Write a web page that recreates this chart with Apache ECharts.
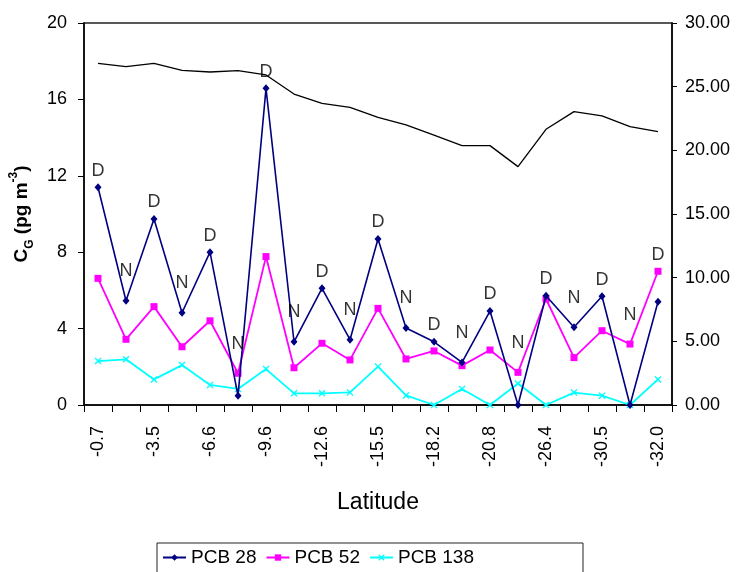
<!DOCTYPE html>
<html>
<head>
<meta charset="UTF-8">
<title>PCB vs latitude</title>
<script src="https://cdn.jsdelivr.net/npm/echarts@6/dist/echarts.min.js"></script>
<style>
	body { margin: 0; background: #fff; }
</style>
</head>
<body>
	<div id='chart' style='width: 737px; height: 572px;'></div>
	<script>
	// latitude categories (only every other one is labelled on the axis)
	var latitudes = ['-0.7', '', '-3.5', '', '-6.6', '', '-9.6', '', '-12.6', '', '-15.5', '', '-18.2', '', '-20.8', '', '-26.4', '', '-30.5', '', '-32.0'];
	// day / night tags
	var tags = ['D', 'N', 'D', 'N', 'D', 'N', 'D', 'N', 'D', 'N', 'D', 'N', 'D', 'N', 'D', 'N', 'D', 'N', 'D', 'N', 'D'];
	// gas phase concentrations, pg m-3
	var pcb28 = [11.4, 5.46, 9.74, 4.83, 8.0, 0.49, 16.58, 3.31, 6.11, 3.42, 8.69, 4.03, 3.31, 2.23, 4.92, 0, 5.72, 4.07, 5.69, 0, 5.41];
	var pcb52 = [6.63, 3.44, 5.15, 3.05, 4.41, 1.66, 7.77, 1.95, 3.23, 2.36, 5.06, 2.41, 2.83, 2.06, 2.88, 1.71, 5.55, 2.48, 3.89, 3.19, 7.0];
	var pcb138 = [2.30, 2.39, 1.34, 2.09, 1.05, 0.84, 1.88, 0.61, 0.61, 0.66, 2.01, 0.50, 0, 0.84, 0, 1.13, 0, 0.65, 0.49, 0, 1.34];
	// sea surface temperature, right axis
	var sst = [26.83, 26.57, 26.83, 26.28, 26.15, 26.26, 25.92, 24.42, 23.69, 23.38, 22.59, 22.0, 21.2, 20.37, 20.37, 18.72, 21.65, 23.04, 22.70, 21.86, 21.47];
	var leftTicks = [0, 4, 8, 12, 16, 20];
	var rightTicks = [0, 5, 10, 15, 20, 25, 30];

	var FONT = 'Liberation Sans, Arial, sans-serif';
	var xMark = 'path://M0,1.4L1.4,0L5,3.6L8.6,0L10,1.4L6.4,5L10,8.6L8.6,10L5,6.4L1.4,10L0,8.6L3.6,5Z';

	// D/N labels sit above the higher of PCB 28 / PCB 52
	var tagData = [];
	for (var i = 0; i < tags.length; i++) {
		tagData.push({
			value: Math.max(pcb28[i], pcb52[i]),
			label: { distance: tags[i] == 'D' ? 7 : 20 }
		});
	}
	var sstData = [];
	for (var i = 0; i < sst.length; i++) {
		if (i == 18) {
			sstData.push({ value: sst[i], label: { show: true, formatter: 'SST', position: 'top', distance: 9, offset: [8, 0], color: '#000', fontSize: 19, fontFamily: FONT } });
		} else {
			sstData.push(sst[i]);
		}
	}

	var chart = echarts.init(document.getElementById('chart'));
	var option = {
		animation: false,
		textStyle: { fontFamily: FONT },
		grid: {
			left: 84, right: 65, top: 23, bottom: 167,
			show: true, borderColor: '#222', borderWidth: 1.5
		},
		legend: {
			data: ['PCB 28', 'PCB 52', 'PCB 138'],
			left: 157, top: 543,
			orient: 'horizontal',
			borderColor: '#222', borderWidth: 1,
			padding: [5, 109, 10, 5],
			itemWidth: 23, itemHeight: 8, itemGap: 9,
			textStyle: { fontSize: 19, color: '#000', fontFamily: FONT }
		},
		xAxis: {
			type: 'category',
			data: latitudes,
			boundaryGap: true,
			name: 'Latitude',
			nameLocation: 'middle',
			nameGap: 86,
			nameTextStyle: { fontSize: 23, color: '#000', fontFamily: FONT },
			axisLine: { lineStyle: { color: '#000', width: 1.5 } },
			axisTick: { show: true, interval: 0, length: 7, lineStyle: { color: '#000' } },
			axisLabel: { interval: 1, rotate: 90, margin: 21, fontSize: 18, color: '#000', fontFamily: FONT },
			splitLine: { show: false }
		},
		yAxis: [
			{
				type: 'value',
				min: leftTicks[0], max: leftTicks[leftTicks.length - 1], interval: 4,
				name: '{b|C}{sub|G}{b| (pg m}{sup|-3}{b|)}',
				nameLocation: 'middle',
				nameRotate: 90,
				nameGap: 44,
				nameTextStyle: {
					color: '#000',
					rich: {
						b: { fontSize: 19, fontWeight: 'bold', fontFamily: FONT, color: '#000', lineHeight: 28 },
						sub: { fontSize: 12, fontWeight: 'bold', fontFamily: FONT, color: '#000', verticalAlign: 'bottom', lineHeight: 18 },
						sup: { fontSize: 12, fontWeight: 'bold', fontFamily: FONT, color: '#000', verticalAlign: 'top', lineHeight: 16 }
					}
				},
				axisLine: { show: true, lineStyle: { color: '#000', width: 1.5 } },
				axisTick: { show: true, length: 6, lineStyle: { color: '#000' } },
				axisLabel: { margin: 17, fontSize: 18, color: '#000', fontFamily: FONT },
				splitLine: { show: false }
			},
			{
				type: 'value',
				position: 'right',
				min: rightTicks[0], max: rightTicks[rightTicks.length - 1], interval: 5,
				axisLine: { show: true, lineStyle: { color: '#000', width: 1.5 } },
				axisTick: { show: true, length: 5, lineStyle: { color: '#000' } },
				axisLabel: { margin: 13, fontSize: 18, color: '#000', fontFamily: FONT, formatter: function (v) { return v.toFixed(2); } },
				splitLine: { show: false }
			}
		],
		series: [
			{
				name: 'SST',
				type: 'line',
				yAxisIndex: 1,
				data: sstData,
				symbol: 'none',
				lineStyle: { color: '#000', width: 1.3 },
				itemStyle: { color: '#000' },
				z: 1
			},
			{
				name: 'PCB 138',
				type: 'line',
				data: pcb138,
				symbol: xMark,
				symbolSize: 7,
				lineStyle: { color: '#00FFFF', width: 1.8 },
				itemStyle: { color: '#00FFFF' },
				z: 2
			},
			{
				name: 'PCB 52',
				type: 'line',
				data: pcb52,
				symbol: 'rect',
				symbolSize: 7,
				lineStyle: { color: '#FF00FF', width: 1.8 },
				itemStyle: { color: '#FF00FF' },
				z: 3
			},
			{
				name: 'PCB 28',
				type: 'line',
				data: pcb28,
				symbol: 'diamond',
				symbolSize: [7, 8],
				lineStyle: { color: '#000080', width: 1.6 },
				itemStyle: { color: '#000080' },
				z: 4
			},
			{
				name: 'tags',
				type: 'scatter',
				data: tagData,
				symbolSize: 1,
				itemStyle: { color: 'rgba(0,0,0,0)' },
				label: {
					show: true,
					position: 'top',
					color: '#000',
					fontSize: 18,
					fontFamily: FONT,
					formatter: function (p) { return tags[p.dataIndex]; }
				},
				z: 5
			}
		]
	};
	chart.setOption(option);
	</script>
</body>
</html>
